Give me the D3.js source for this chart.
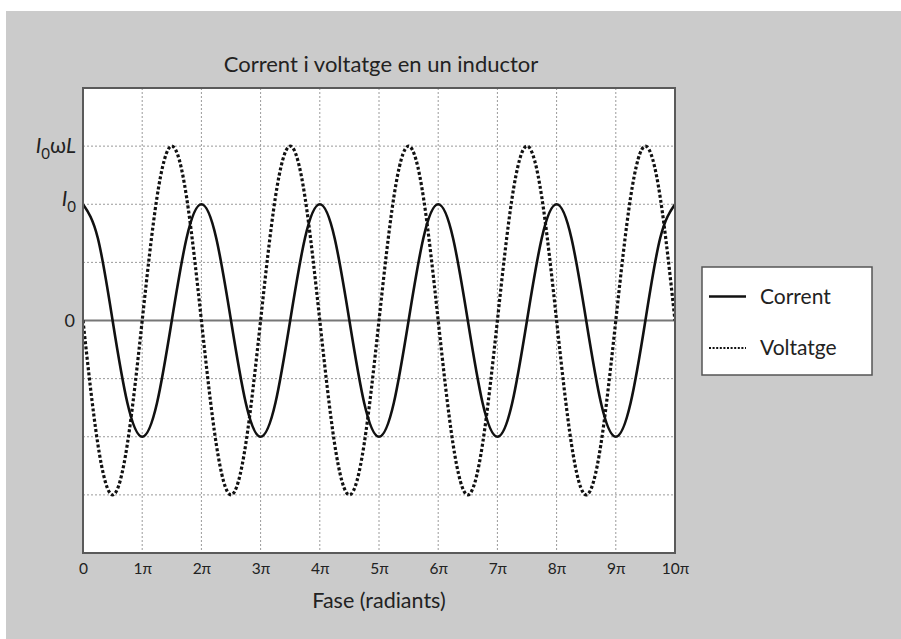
<!DOCTYPE html>
<html>
<head>
<meta charset="utf-8">
<script src="https://cdn.jsdelivr.net/npm/d3@7"></script>
<style>
  html, body { margin: 0; padding: 0; background: #ffffff; }
  svg { display: block; }
  text { font-family: Lato, "Open Sans", sans-serif; fill: #222; }
</style>
</head>
<body>
<svg id="chart" width="901" height="639"></svg>
<script>
// Phase samples, in multiples of π (quarter-period steps)
const phase = d3.range(0, 41).map(k => k / 4);

// Current, in units of I0
const current = [
  1, 0.71, 0, -0.71, -1, -0.71, 0, 0.71,
  1, 0.71, 0, -0.71, -1, -0.71, 0, 0.71,
  1, 0.71, 0, -0.71, -1, -0.71, 0, 0.71,
  1, 0.71, 0, -0.71, -1, -0.71, 0, 0.71,
  1, 0.71, 0, -0.71, -1, -0.71, 0, 0.71,
  1
];

// Voltage, in units of I0 (peak I0·ω·L = 1.5)
const voltage = [
  0, -1.06, -1.5, -1.06, 0, 1.06, 1.5, 1.06,
  0, -1.06, -1.5, -1.06, 0, 1.06, 1.5, 1.06,
  0, -1.06, -1.5, -1.06, 0, 1.06, 1.5, 1.06,
  0, -1.06, -1.5, -1.06, 0, 1.06, 1.5, 1.06,
  0, -1.06, -1.5, -1.06, 0, 1.06, 1.5, 1.06,
  0
];

const xTicks = [0, 1, 2, 3, 4, 5, 6, 7, 8, 9, 10];
const xTickLabels = ["0", "1π", "2π", "3π", "4π", "5π", "6π", "7π", "8π", "9π", "10π"];
const yGrid = [-1.5, -1, -0.5, 0.5, 1, 1.5];
const seriesNames = ["Corrent", "Voltatge"];

const svg = d3.select("#chart");
const W = 901, H = 639;

// grey page panel
svg.append("rect").attr("x", 6).attr("y", 11).attr("width", W - 6).attr("height", H - 11)
  .attr("fill", "#cbcbcb");

const plot = { left: 83, right: 675, top: 88, bottom: 553 };

const x = d3.scaleLinear().domain([0, 10]).range([plot.left, plot.right]);
const y = d3.scaleLinear().domain([-2, 2]).range([plot.bottom, plot.top]);

// plot background
svg.append("rect")
  .attr("x", plot.left).attr("y", plot.top)
  .attr("width", plot.right - plot.left).attr("height", plot.bottom - plot.top)
  .attr("fill", "#ffffff");

// dotted grid
const grid = svg.append("g").attr("stroke", "#9a9a9a").attr("stroke-width", 1)
  .attr("stroke-dasharray", "2,2");
grid.selectAll("line.v").data(xTicks.slice(1, -1)).join("line")
  .attr("x1", d => x(d)).attr("x2", d => x(d))
  .attr("y1", plot.top).attr("y2", plot.bottom);
grid.selectAll("line.h").data(yGrid).join("line")
  .attr("x1", plot.left).attr("x2", plot.right)
  .attr("y1", d => y(d)).attr("y2", d => y(d));

// zero line
svg.append("line")
  .attr("x1", plot.left).attr("x2", plot.right)
  .attr("y1", y(0)).attr("y2", y(0))
  .attr("stroke", "#777").attr("stroke-width", 2);

// curves
const clipId = "plotclip";
svg.append("clipPath").attr("id", clipId).append("rect")
  .attr("x", plot.left).attr("y", plot.top - 4)
  .attr("width", plot.right - plot.left).attr("height", plot.bottom - plot.top + 8);

const line = d3.line()
  .x(d => x(d[0]))
  .y(d => y(d[1]))
  .curve(d3.curveNatural);

svg.append("path")
  .attr("clip-path", `url(#${clipId})`)
  .attr("d", line(phase.map((p, i) => [p, voltage[i]])))
  .attr("fill", "none").attr("stroke", "#111")
  .attr("stroke-width", 3.2).attr("stroke-dasharray", "3,2.2");

svg.append("path")
  .attr("clip-path", `url(#${clipId})`)
  .attr("d", line(phase.map((p, i) => [p, current[i]])))
  .attr("fill", "none").attr("stroke", "#111")
  .attr("stroke-width", 2.6);

// frame
svg.append("rect")
  .attr("x", plot.left).attr("y", plot.top)
  .attr("width", plot.right - plot.left).attr("height", plot.bottom - plot.top)
  .attr("fill", "none").attr("stroke", "#5a5a5a").attr("stroke-width", 2);

// x tick labels
const xAxis = d3.axisBottom(x).tickValues(xTicks)
  .tickFormat((d, i) => xTickLabels[i]).tickSize(0).tickPadding(0);
const gx = svg.append("g").attr("transform", `translate(0,${plot.bottom})`).call(xAxis);
gx.select(".domain").remove();
gx.selectAll("text")
  .attr("y", 20.5).attr("dy", 0)
  .style("font-family", "Lato, 'Open Sans', sans-serif")
  .style("font-size", "15.5px").style("fill", "#222");

// y labels
const yl = svg.append("g").style("font-size", "21px");
const lab1 = yl.append("text").attr("x", 76).attr("y", y(1.5) + 7).attr("text-anchor", "end");
lab1.append("tspan").attr("font-style", "italic").text("I");
lab1.append("tspan").attr("dy", 6).attr("font-size", "15px").text("0");
lab1.append("tspan").attr("dy", -6).text("ω");
lab1.append("tspan").attr("font-style", "italic").text("L");

const lab2 = yl.append("text").attr("x", 76).attr("y", y(1) + 1.5).attr("text-anchor", "end");
lab2.append("tspan").attr("font-style", "italic").text("I");
lab2.append("tspan").attr("dy", 6).attr("font-size", "15px").text("0");

yl.append("text").attr("x", 75).attr("y", y(0) + 6).attr("text-anchor", "end")
  .style("font-size", "18px").text("0");

// title and axis title
svg.append("text").attr("x", 381).attr("y", 72).attr("text-anchor", "middle")
  .style("font-size", "22px").text("Corrent i voltatge en un inductor");
svg.append("text").attr("x", 379).attr("y", 608).attr("text-anchor", "middle")
  .style("font-size", "21.5px").text("Fase (radiants)");

// legend
const lg = svg.append("g");
lg.append("rect").attr("x", 702).attr("y", 267).attr("width", 170).attr("height", 108)
  .attr("fill", "#fff").attr("stroke", "#555").attr("stroke-width", 1.5);
const legendRows = [
  { name: seriesNames[0], dash: null, w: 2.6, y: 296.5 },
  { name: seriesNames[1], dash: "2,1.6", w: 2, y: 348 }
];
legendRows.forEach(r => {
  const l = lg.append("line").attr("x1", 709).attr("x2", 746)
    .attr("y1", r.y).attr("y2", r.y)
    .attr("stroke", "#111").attr("stroke-width", r.w);
  if (r.dash) l.attr("stroke-dasharray", r.dash);
  lg.append("text").attr("x", 760).attr("y", r.y + 7)
    .style("font-size", "21px").text(r.name);
});
</script>
</body>
</html>
